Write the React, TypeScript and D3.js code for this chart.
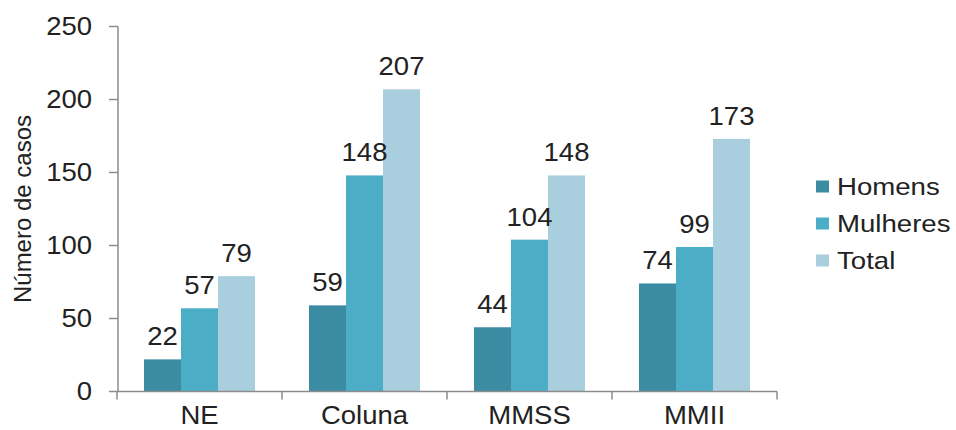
import React from "react";
import * as d3 from "d3";

const categories = ["NE", "Coluna", "MMSS", "MMII"];
const seriesNames = ["Homens", "Mulheres", "Total"];
const homens = [22, 59, 44, 74];
const mulheres = [57, 148, 104, 99];
const total = [79, 207, 148, 173];
const yTicks = [0, 50, 100, 150, 200, 250];
const colors = ["#3B8CA3", "#4BADC6", "#A9CFDE"];

const W = 956;
const H = 430;
const left = 117;
const right = 777;
const top = 26.5;
const bottom = 391.5;
const FONT = "'Liberation Sans', Arial, sans-serif";

export default function App() {
  const series = [homens, mulheres, total];
  const x0 = d3.scaleBand<string>().domain(categories).range([left, right]).padding(0);
  const x1 = d3
    .scaleBand<string>()
    .domain(seriesNames)
    .range([0, x0.step()])
    .paddingInner(0)
    .paddingOuter(0.73);
  const y = d3.scaleLinear().domain([0, 250]).range([bottom, top]);
  const axisColor = "#8c8c8c";

  const stretchText = (
    x: number,
    yy: number,
    txt: string,
    size: number,
    anchor: string,
    key: string,
    baseline?: string,
    sx = 1.1
  ) => (
    <g key={key} transform={`translate(${x},${yy}) scale(${sx},1)`}>
      <text
        x={0}
        y={0}
        fontSize={size}
        fontFamily={FONT}
        fill="#222"
        textAnchor={anchor as any}
        dominantBaseline={baseline as any}
      >
        {txt}
      </text>
    </g>
  );

  return (
    <svg
      width={W}
      height={H}
      style={{ position: "absolute", left: 0, top: 0, background: "#fff" }}
    >
      {categories.map((c, ci) => (
        <g key={c} transform={`translate(${x0(c)},0)`}>
          {seriesNames.map((s, si) => {
            const v = series[si][ci];
            return (
              <rect
                key={s}
                x={x1(s)}
                y={y(v)}
                width={x1.bandwidth()}
                height={y(0) - y(v)}
                fill={colors[si]}
              />
            );
          })}
        </g>
      ))}
      {categories.map((c, ci) =>
        seriesNames.map((s, si) => {
          const v = series[si][ci];
          const cx = (x0(c) as number) + (x1(s) as number) + x1.bandwidth() / 2;
          return stretchText(cx, y(v) - 14, String(v), 25, "middle", `${c}-${s}`);
        })
      )}
      <line x1={left + 1} x2={left + 1} y1={top} y2={bottom} stroke={axisColor} strokeWidth={1.5} />
      {yTicks.map((t) => (
        <g key={t}>
          <line x1={left - 8} x2={left + 1} y1={y(t)} y2={y(t)} stroke={axisColor} strokeWidth={1.5} />
          {stretchText(92, y(t), String(t), 25, "end", `yt${t}`, "central")}
        </g>
      ))}
      <line x1={left} x2={right} y1={bottom} y2={bottom} stroke={axisColor} strokeWidth={1.5} />
      {[...categories.map((c) => x0(c) as number), right].map((bx, i) => (
        <line key={i} x1={bx} x2={bx} y1={bottom} y2={bottom + 8} stroke={axisColor} strokeWidth={1.5} />
      ))}
      {categories.map((c) =>
        stretchText((x0(c) as number) + x0.bandwidth() / 2, 424, c, 25, "middle", `xl${c}`)
      )}
      <text
        transform={`translate(31,209) rotate(-90)`}
        fontSize={24}
        fontFamily={FONT}
        fill="#222"
        textAnchor="middle"
      >
        Número de casos
      </text>
      {seriesNames.map((s, i) => {
        const ly = 186.5 + i * 37;
        return (
          <g key={s}>
            <rect x={816} y={ly - 6} width={13} height={12} fill={colors[i]} />
            {stretchText(837, ly, s, 24, "start", `lg${s}`, "central", 1.15)}
          </g>
        );
      })}
    </svg>
  );
}
